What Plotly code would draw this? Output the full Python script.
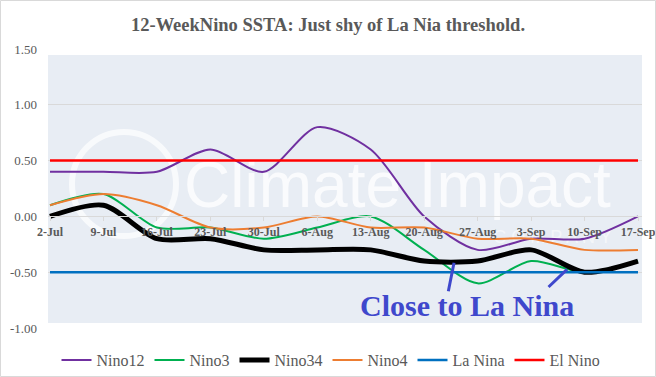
import plotly.graph_objects as go

weeks = ["2-Jul", "9-Jul", "16-Jul", "23-Jul", "30-Jul", "6-Aug", "13-Aug",
         "20-Aug", "27-Aug", "3-Sep", "10-Sep", "17-Sep"]
nino12 = [0.4, 0.4, 0.4, 0.6, 0.4, 0.8, 0.6, 0.0, -0.3, -0.2, -0.2, 0.0]
nino3 = [0.1, 0.2, -0.1, -0.1, -0.2, -0.1, 0.0, -0.3, -0.6, -0.4, -0.5, -0.4]
nino34 = [0.0, 0.1, -0.2, -0.2, -0.3, -0.3, -0.3, -0.4, -0.4, -0.3, -0.5, -0.4]
nino4 = [0.1, 0.2, 0.1, -0.1, -0.1, 0.0, -0.1, -0.1, -0.2, -0.2, -0.3, -0.3]
la_nina = [-0.5] * len(weeks)
el_nino = [0.5] * len(weeks)
y_ticks = [1.5, 1.0, 0.5, 0.0, -0.5, -1.0]

W, H = 656, 377
L, R, T, B = 48, 14, 49, 49
PW, PH = W - L - R, H - T - B


def fx(px):
    return (px - L) / PW


def fy(py):
    return (H - B - py) / PH


serif = "Liberation Serif"
grey = "#595959"

fig = go.Figure()
series = [
    ("Nino12", nino12, "#7030A0", 2),
    ("Nino3", nino3, "#00B050", 2),
    ("Nino34", nino34, "#000000", 5),
    ("Nino4", nino4, "#ED7D31", 2),
    ("La Nina", la_nina, "#0070C0", 2.5),
    ("El Nino", el_nino, "#FF0000", 2.5),
]
for name, vals, col, w in series:
    fig.add_trace(go.Scatter(
        x=weeks, y=vals, name=name, mode="lines",
        line=dict(color=col, width=w, shape="spline", smoothing=0.8),
        hoverinfo="skip"))

shapes = [
    dict(type="rect", xref="paper", yref="paper", x0=0, x1=fx(642), y0=fy(323), y1=fy(55),
         fillcolor="#E8EDF4", line=dict(width=0), layer="below"),
    dict(type="circle", xref="paper", yref="paper", x0=fx(72), x1=fx(176), y0=fy(236), y1=fy(132),
         line=dict(color="rgba(255,255,255,0.7)", width=6), fillcolor="rgba(255,255,255,0)",
         layer="between"),
    dict(type="rect", xref="paper", yref="paper", x0=fx(180), x1=fx(615), y0=fy(218), y1=fy(140),
         line=dict(width=0), fillcolor="rgba(0,0,0,0)", layer="between",
         label=dict(text="Climate Impact", textposition="middle center",
                    font=dict(family="Liberation Sans", size=64,
                              color="rgba(255,255,255,0.78)"))),
    dict(type="rect", xref="paper", yref="paper", x0=fx(495), x1=fx(610), y0=fy(250), y1=fy(220),
         line=dict(width=0), fillcolor="rgba(0,0,0,0)", layer="between",
         label=dict(text="C O M P A N Y", textposition="middle center",
                    font=dict(family="Liberation Sans", size=18,
                              color="rgba(255,255,255,0.55)"))),
    dict(type="rect", xref="paper", yref="paper", x0=fx(0.5), x1=fx(655.5), y0=fy(376.5), y1=fy(0.5),
         line=dict(color="#D9D9D9", width=1), fillcolor="rgba(0,0,0,0)", layer="above"),
]

note_col = "#3F48CC"
annotations = [
    dict(x=(467 - 50) / 53.45, y=-0.80, xref="x", yref="y", text="<b>Close to La Nina</b>",
         showarrow=False, font=dict(family=serif, size=30, color=note_col)),
    dict(x=(454 - 50) / 53.45, y=-0.415, xref="x", yref="y", text="", showarrow=True,
         arrowhead=0, arrowwidth=3, arrowcolor=note_col, ax=-6, ay=30, standoff=0),
    dict(x=(567 - 50) / 53.45, y=-0.475, xref="x", yref="y", text="", showarrow=True,
         arrowhead=0, arrowwidth=3, arrowcolor=note_col, ax=-20, ay=19, standoff=0),
]

fig.update_layout(
    width=W, height=H,
    margin=dict(l=L, r=R, t=T, b=B, autoexpand=False),
    paper_bgcolor="white", plot_bgcolor="white",
    font=dict(family=serif, color=grey),
    title=dict(text="<b>12-WeekNino SSTA: Just shy of La Nia threshold.</b>",
               x=fx(328), xref="paper", xanchor="center", y=1 - 25 / H, yanchor="middle",
               font=dict(family=serif, size=18.5, color=grey)),
    xaxis=dict(type="category", range=[-2 / 53.45, 11 + 4 / 53.45],
               anchor="free", position=1 / 2.5, automargin=False,
               showgrid=False, showline=True, linecolor="#D9D9D9", linewidth=1,
               ticks="outside", ticklen=4, tickcolor="#D9D9D9",
               tickfont=dict(family=serif, size=12, color=grey, weight="bold"),
               zeroline=False),
    yaxis=dict(range=[-1.0, 1.5], tickvals=y_ticks, automargin=False,
               ticktext=[f"{v:.2f}" for v in y_ticks],
               showgrid=True, gridcolor="#D9D9D9", gridwidth=1, zeroline=False,
               tickfont=dict(family=serif, size=13, color=grey),
               ticks="", ticklabelstandoff=10),
    legend=dict(orientation="h", x=fx(331), xanchor="center", y=fy(360), yanchor="middle",
                font=dict(family=serif, size=16, color=grey), itemwidth=30,
                bgcolor="rgba(0,0,0,0)", tracegroupgap=0),
    shapes=shapes,
    annotations=annotations,
    showlegend=True,
)

fig.write_html("out.html", config={"displayModeBar": False},
               post_script="document.body.style.margin='0';document.body.style.padding='0';")
